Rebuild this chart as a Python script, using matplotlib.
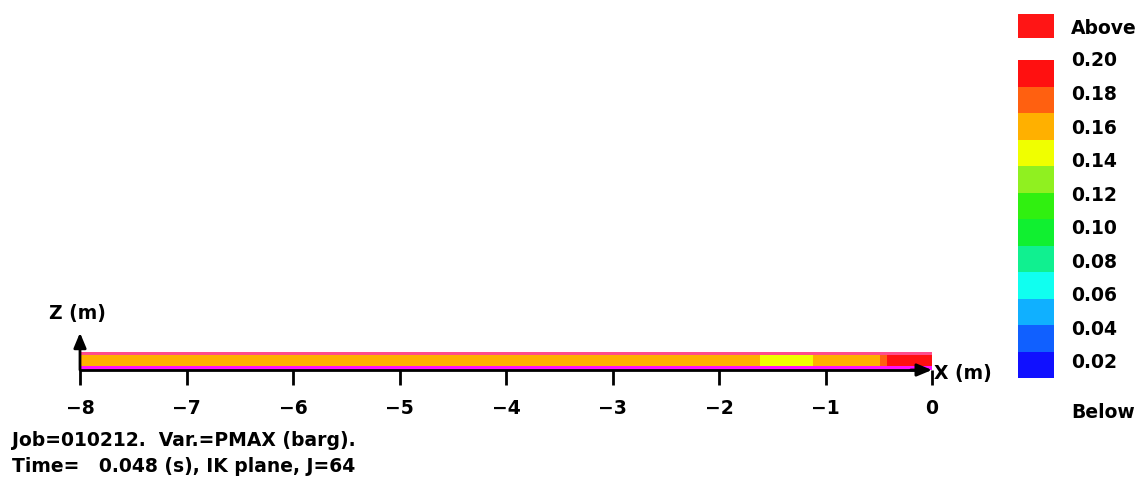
import numpy as np
import matplotlib
matplotlib.use("Agg")
import matplotlib.pyplot as plt
from matplotlib.colors import ListedColormap, BoundaryNorm

# ---- data ----
x_ticks = [-8, -7, -6, -5, -4, -3, -2, -1, 0]
x_edges = [-8.0, -1.615, -1.12, -0.49, -0.42, 0.0]      # cell edges along X (m)
pmax_vals = [0.160, 0.145, 0.160, 0.175, 0.190]          # PMAX (barg) in the IK-plane row
level_labels = [0.02, 0.04, 0.06, 0.08, 0.10, 0.12, 0.14, 0.16, 0.18, 0.20]
box_colors = ["#1010ff", "#1060ff", "#10b0ff", "#10fff0", "#10f090", "#10f030",
              "#30f010", "#90f020", "#f0ff00", "#ffb000", "#ff6010", "#ff1010"]
above_color = "#ff1515"
bounds = np.linspace(0.0, 0.20, len(box_colors) + 1)

W, H, DPI = 1142, 484, 100
fig = plt.figure(figsize=(W / DPI, H / DPI), dpi=DPI)
fig.patch.set_facecolor("white")

# main axes over whole figure; 106.5 px per metre, origin at pixel (932, 370)
S = 106.5
x0px, y0px = 932, 370
ax = fig.add_axes([0, 0, 1, 1])
ax.set_xlim(-x0px / S, (W - x0px) / S)
ax.set_ylim(-(H - y0px) / S, y0px / S)
ax.axis("off")

cmap = ListedColormap(box_colors)
cmap.set_over(above_color)
cmap.set_under("#ffffff")
norm = BoundaryNorm(bounds, cmap.N)

z_mid = [0.036, 0.14]
ax.pcolormesh(x_edges, z_mid, np.array([pmax_vals]), cmap=cmap, norm=norm,
              shading="flat", zorder=2)
# boundary rows
ax.fill_between([x_edges[0], x_edges[-1]], 0.0, 0.036, color="#ff10ff", lw=0, zorder=2)
ax.fill_between([x_edges[0], x_edges[-1]], 0.14, 0.168, color="#ff4d8c", lw=0, zorder=2)

fs = 13.5
fkw = dict(fontsize=fs, fontweight="bold", family="DejaVu Sans", color="black")
astyle = "-|>,head_length=0.6,head_width=0.25"

# X axis with arrow
ax.plot([-8, -0.12], [0, 0], color="black", lw=2, zorder=3, solid_capstyle="butt")
ax.annotate("", xy=(0.0, 0.0), xytext=(-0.2, 0.0),
            arrowprops=dict(arrowstyle=astyle, color="black", lw=2,
                            shrinkA=0, shrinkB=0, mutation_scale=15),
            zorder=4)
# Z axis with arrow
ax.annotate("", xy=(-8, 0.35), xytext=(-8, 0.0),
            arrowprops=dict(arrowstyle=astyle, color="black", lw=2,
                            shrinkA=0, shrinkB=0, mutation_scale=15),
            zorder=4)
ax.text(-8.02, 0.535, "Z (m)", ha="center", va="center", **fkw)
ax.text(0.02, -0.03, "X (m)", ha="left", va="center", **fkw)

# ticks
tick_len = 15 / S
ax.vlines(x_ticks, -tick_len, 0, color="black", lw=2, zorder=3)
for t in x_ticks:
    lab = "\u2212%d" % abs(t) if t < 0 else "%d" % t
    ax.text(t, -38 / S, lab, ha="center", va="center", **fkw)

# footer
fig.text(12 / W, 1 - 440 / H, "Job=010212.  Var.=PMAX (barg).", ha="left", va="center", **fkw)
fig.text(12 / W, 1 - 466 / H, "Time=   0.048 (s), IK plane, J=64", ha="left", va="center", **fkw)

# colour legend
cb_left, cb_right, cb_top, cb_bot = 1018, 1054, 60, 378
cax = fig.add_axes([cb_left / W, 1 - cb_bot / H, (cb_right - cb_left) / W, (cb_bot - cb_top) / H])
nb = len(box_colors)
cax.imshow(np.arange(nb)[:, None], cmap=ListedColormap(box_colors), origin="lower",
           extent=[0, 1, 0, nb], aspect="auto", interpolation="nearest")
cax.set_xlim(0, 1)
cax.set_ylim(0, nb)
cax.axis("off")

# label positions (pixel rows of first/last labels)
lab_top_px, lab_bot_px = 61, 363
for v in level_labels:
    frac = (v - level_labels[0]) / (level_labels[-1] - level_labels[0])
    ypx = lab_bot_px + frac * (lab_top_px - lab_bot_px)
    fig.text(1071 / W, 1 - ypx / H, "%.2f" % v, ha="left", va="center", **fkw)

aax = fig.add_axes([cb_left / W, 1 - 38 / H, (cb_right - cb_left) / W, 24 / H])
aax.add_patch(plt.Rectangle((0, 0), 1, 1, color=above_color))
aax.set_xlim(0, 1); aax.set_ylim(0, 1)
aax.axis("off")
fig.text(1071 / W, 1 - 28 / H, "Above", ha="left", va="center", **fkw)
fig.text(1071 / W, 1 - 413 / H, "Below", ha="left", va="center", **fkw)

fig.savefig("out.png", dpi=DPI, facecolor="white")
